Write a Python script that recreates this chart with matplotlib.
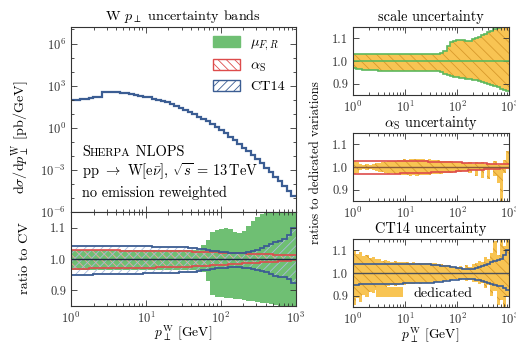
import numpy as np
import matplotlib
matplotlib.use("Agg")
import matplotlib.pyplot as plt
from matplotlib.patches import Patch
from matplotlib.ticker import FixedLocator, LogLocator, NullFormatter, FormatStrFormatter
from matplotlib.offsetbox import TextArea, HPacker, AnnotationBbox

plt.rcParams["font.family"] = "cmr10"
plt.rcParams["mathtext.fontset"] = "cm"
plt.rcParams["axes.formatter.use_mathtext"] = True
plt.rcParams["hatch.linewidth"] = 0.6

# 50 log bins from 1 to 1000 GeV
edges = np.logspace(0, 3, 51)

# log10 of d sigma / d pT [pb/GeV], central value
xs_log10 = [1.96, 2.00, 2.04, 2.08, 2.12, 2.16, 2.21, 2.52, 2.58, 2.58,
            2.56, 2.50, 2.45, 2.40, 2.34, 2.28, 2.22, 2.16, 2.08, 2.00,
            1.91, 1.83, 1.70, 1.56, 1.42, 1.27, 1.12, 0.96, 0.80, 0.63,
            0.45, 0.27, 0.08, -0.14, -0.38, -0.63, -0.89, -1.15, -1.41, -1.67,
            -1.95, -2.24, -2.54, -2.84, -3.16, -3.48, -3.81, -4.15, -4.50, -4.88]

# ratio to CV: mu_F,R envelope
mu_up = [1.030] * 29 + [1.045,
         1.060, 1.087, 1.092, 1.095, 1.098, 1.095, 1.085, 1.082, 1.090, 1.105,
         1.120, 1.135, 1.145, 1.160, 1.160, 1.160, 1.160, 1.160, 1.160, 1.160]
mu_dn = [0.966] * 29 + [0.960,
         0.930, 0.885, 0.880, 0.878, 0.876, 0.874, 0.872, 0.871, 0.869, 0.867,
         0.865, 0.862, 0.860, 0.858, 0.855, 0.853, 0.850, 0.848, 0.846, 0.845]

# ratio to CV: alpha_S
as_up = [1.028, 1.028, 1.028, 1.028, 1.028, 1.028, 1.028, 1.028, 1.028, 1.028,
         1.028, 1.027, 1.027, 1.027, 1.027, 1.027, 1.026, 1.026, 1.026, 1.026,
         1.026, 1.025, 1.025, 1.025, 1.024, 1.024, 1.024, 1.023, 1.023, 1.022,
         1.022, 1.021, 1.021, 1.020, 1.020, 1.019, 1.019, 1.018, 1.018, 1.017,
         1.017, 1.016, 1.016, 1.015, 1.015, 1.014, 1.014, 1.013, 1.013, 1.012]
as_dn = [0.969, 0.969, 0.969, 0.969, 0.970, 0.970, 0.970, 0.970, 0.970, 0.970,
         0.971, 0.971, 0.971, 0.971, 0.971, 0.972, 0.972, 0.972, 0.972, 0.973,
         0.973, 0.974, 0.974, 0.975, 0.975, 0.976, 0.976, 0.977, 0.978, 0.978,
         0.979, 0.980, 0.980, 0.981, 0.982, 0.983, 0.984, 0.985, 0.986, 0.987,
         0.987, 0.988, 0.989, 0.990, 0.991, 0.992, 0.993, 0.994, 0.995, 0.996]

# ratio to CV: CT14
ct_up = [1.041, 1.041, 1.041, 1.040, 1.040, 1.040, 1.040, 1.040, 1.040, 1.040,
         1.040, 1.040, 1.040, 1.040, 1.040, 1.040, 1.040, 1.040, 1.039, 1.039,
         1.039, 1.039, 1.038, 1.038, 1.038, 1.037, 1.036, 1.035, 1.033, 1.031,
         1.029, 1.027, 1.025, 1.023, 1.021, 1.019, 1.018, 1.018, 1.019, 1.021,
         1.025, 1.029, 1.034, 1.040, 1.047, 1.053, 1.058, 1.063, 1.078, 1.100]
ct_dn = [0.949, 0.949, 0.950, 0.950, 0.950, 0.951, 0.951, 0.951, 0.952, 0.952,
         0.952, 0.952, 0.953, 0.953, 0.953, 0.953, 0.954, 0.954, 0.954, 0.955,
         0.955, 0.955, 0.956, 0.956, 0.957, 0.958, 0.959, 0.960, 0.962, 0.964,
         0.966, 0.968, 0.970, 0.971, 0.972, 0.973, 0.973, 0.973, 0.972, 0.970,
         0.968, 0.965, 0.961, 0.957, 0.952, 0.947, 0.944, 0.941, 0.936, 0.925]

# scale: reweighted vs dedicated
sc_up = [1.029, 1.030, 1.031, 1.031, 1.032, 1.032, 1.032, 1.032, 1.032, 1.032,
         1.032, 1.031, 1.031, 1.031, 1.031, 1.030, 1.030, 1.030, 1.030, 1.030,
         1.030, 1.029, 1.029, 1.029, 1.029, 1.029, 1.029, 1.030, 1.034, 1.045,
         1.065, 1.082, 1.089, 1.093, 1.093, 1.093, 1.088, 1.090, 1.096, 1.100,
         1.107, 1.114, 1.121, 1.127, 1.133, 1.139, 1.145, 1.150, 1.155, 1.160]
sc_dn = [0.967, 0.965, 0.963, 0.962, 0.961, 0.960, 0.959, 0.959, 0.958, 0.958,
         0.958, 0.957, 0.957, 0.957, 0.957, 0.957, 0.956, 0.956, 0.956, 0.956,
         0.956, 0.955, 0.955, 0.955, 0.955, 0.955, 0.955, 0.954, 0.950, 0.944,
         0.938, 0.933, 0.930, 0.928, 0.926, 0.924, 0.922, 0.920, 0.918, 0.915,
         0.911, 0.907, 0.903, 0.899, 0.894, 0.889, 0.884, 0.878, 0.872, 0.866]

# dedicated alpha_S variations
ded_as_up = [1.027, 1.020, 1.012, 1.010, 1.014, 1.011, 1.013, 1.016, 1.018, 1.022,
             1.024, 1.026, 1.025, 1.028, 1.030, 1.033, 1.034, 1.032, 1.036, 1.035,
             1.037, 1.034, 1.036, 1.033, 1.035, 1.032, 1.030, 1.031, 1.028, 1.027,
             1.025, 1.026, 1.022, 1.020, 1.021, 1.018, 1.017, 1.020, 1.015, 1.022,
             1.016, 1.024, 1.014, 1.018, 1.012, 1.026, 1.010, 1.015, 1.030, 1.070]
ded_as_dn = [0.968, 0.975, 0.988, 0.990, 0.986, 0.989, 0.987, 0.984, 0.980, 0.976,
             0.973, 0.971, 0.972, 0.969, 0.967, 0.965, 0.964, 0.966, 0.962, 0.964,
             0.962, 0.965, 0.963, 0.966, 0.964, 0.967, 0.968, 0.969, 0.971, 0.972,
             0.975, 0.974, 0.978, 0.980, 0.978, 0.982, 0.983, 0.975, 0.985, 0.960,
             0.986, 0.950, 0.987, 0.945, 0.990, 0.960, 0.930, 0.850, 0.975, 0.990]

# dedicated CT14 variations
ded_ct_up = [1.100, 1.085, 1.092, 1.075, 1.080, 1.066, 1.070, 1.060, 1.062, 1.055,
             1.058, 1.052, 1.050, 1.053, 1.048, 1.050, 1.047, 1.049, 1.046, 1.047,
             1.045, 1.046, 1.044, 1.045, 1.043, 1.044, 1.042, 1.040, 1.038, 1.036,
             1.034, 1.030, 1.028, 1.026, 1.030, 1.024, 1.035, 1.028, 1.040, 1.045,
             1.055, 1.050, 1.070, 1.062, 1.090, 1.140, 1.080, 1.150, 1.120, 1.150]
ded_ct_dn = [0.860, 0.890, 0.870, 0.905, 0.895, 0.915, 0.910, 0.925, 0.930, 0.935,
             0.938, 0.942, 0.945, 0.944, 0.948, 0.950, 0.949, 0.952, 0.951, 0.953,
             0.954, 0.953, 0.955, 0.956, 0.957, 0.958, 0.960, 0.962, 0.964, 0.966,
             0.968, 0.970, 0.972, 0.974, 0.970, 0.972, 0.966, 0.968, 0.960, 0.962,
             0.950, 0.955, 0.935, 0.945, 0.900, 0.920, 0.860, 0.880, 0.850, 0.900]

GREEN = "#6fbf73"
RED = "#dd4b4b"
RED_H = "#f0a3a3"
BLUE = "#3b5d93"
BLUE_H = "#a9badb"
ORANGE = "#f8c453"
ORANGE_H = "#d89a2c"
SPINE = "#333333"
TICK_FS = 9


def band(ax, lo, hi, face=None, hatch=None, hcol=None):
    lo, hi = np.asarray(lo), np.asarray(hi)
    if face is not None:
        ax.stairs(hi, edges, baseline=lo, fill=True, facecolor=face, edgecolor="none", lw=0)
    if hatch is not None:
        ax.stairs(hi, edges, baseline=lo, fill=True, facecolor="none",
                  edgecolor=hcol, hatch=hatch, lw=0)


def edges_line(ax, lo, hi, color, lw=1.2):
    ax.stairs(hi, edges, baseline=None, color=color, lw=lw)
    ax.stairs(lo, edges, baseline=None, color=color, lw=lw)


def style(ax, ratio=True, xlabels=True):
    ax.set_xscale("log")
    ax.set_xlim(1, 1000)
    ax.xaxis.set_minor_locator(LogLocator(base=10, subs=range(2, 10), numticks=20))
    ax.xaxis.set_minor_formatter(NullFormatter())
    ax.tick_params(which="both", direction="in", top=True, right=True,
                   labelsize=TICK_FS, colors=SPINE, width=0.6)
    ax.tick_params(which="major", length=4)
    ax.tick_params(which="minor", length=2)
    for s in ax.spines.values():
        s.set_color(SPINE)
        s.set_linewidth(0.8)
    if ratio:
        ax.set_ylim(0.85, 1.15)
        ax.set_yticks([0.9, 1.0, 1.1])
        ax.yaxis.set_major_formatter(FormatStrFormatter("%.1f"))
    if not xlabels:
        ax.tick_params(labelbottom=False)


fig = plt.figure(figsize=(5.16, 3.52), dpi=100)
W, H = 516, 352


def add_ax(x0, y0, x1, y1):
    return fig.add_axes([x0 / W, 1 - y1 / H, (x1 - x0) / W, (y1 - y0) / H])


ax_main = add_ax(71, 27, 295.5, 212)
ax_rat = add_ax(71, 212, 295.5, 306)
ax_sc = add_ax(353, 27, 509, 95)
ax_as = add_ax(353, 133, 509, 201)
ax_ct = add_ax(353, 239, 509, 307)

# ---- main spectrum
xs = 10 ** np.asarray(xs_log10)
band(ax_main, xs * np.asarray(mu_dn), xs * np.asarray(mu_up), face=GREEN)
ax_main.stairs(xs, edges, baseline=None, color=BLUE, lw=1.6)
style(ax_main, ratio=False, xlabels=False)
ax_main.set_yscale("log")
ax_main.set_ylim(1e-6, 1.5e7)
ax_main.yaxis.set_major_locator(FixedLocator([1e-6, 1e-3, 1, 1e3, 1e6]))
ax_main.yaxis.set_minor_locator(FixedLocator([10.0 ** k for k in range(-6, 8)]))
ax_main.yaxis.set_minor_formatter(NullFormatter())
ax_main.set_title(r"W $p_\perp$ uncertainty bands", fontsize=10.2, pad=5)

handles = [Patch(facecolor=GREEN, edgecolor=GREEN),
           Patch(facecolor="white", edgecolor=RED, hatch="\\\\\\\\"),
           Patch(facecolor="white", edgecolor=BLUE, hatch="////")]
ax_main.legend(handles, [r"$\mu_{F,R}$", r"$\alpha_\mathrm{S}$", "CT14"],
               loc="upper right", bbox_to_anchor=(0.965, 0.965), frameon=False,
               fontsize=10.2, handlelength=1.9, handleheight=0.75, labelspacing=0.45,
               handletextpad=0.7, borderaxespad=0.0, borderpad=0.2)

sherpa = HPacker(children=[TextArea("S", textprops=dict(fontsize=10.4)),
                           TextArea("HERPA", textprops=dict(fontsize=8.2)),
                           TextArea(" NLOPS", textprops=dict(fontsize=10.4))],
                 align="baseline", pad=0, sep=0)
ax_main.add_artist(AnnotationBbox(sherpa, (0.05, 0.324), xycoords="axes fraction",
                                  box_alignment=(0, 0.5), frameon=False, pad=0))
ax_main.text(0.05, 0.216, r"pp $\rightarrow$ W[e$\bar{\nu}$], $\sqrt{s}\,=\,13\,$TeV",
             transform=ax_main.transAxes, fontsize=10.4, va="center")
ax_main.text(0.05, 0.103, "no emission reweighted", transform=ax_main.transAxes,
             fontsize=10.4, va="center")

# ---- ratio to CV
band(ax_rat, mu_dn, mu_up, face=GREEN)
band(ax_rat, as_dn, as_up, hatch="\\\\\\\\", hcol=RED_H)
band(ax_rat, ct_dn, ct_up, hatch="////", hcol=BLUE_H)
ax_rat.axhline(1.0, color="#1d2a40", lw=1.0)
edges_line(ax_rat, as_dn, as_up, RED)
edges_line(ax_rat, ct_dn, ct_up, BLUE, lw=1.3)
style(ax_rat)

# ---- right: scale
band(ax_sc, sc_dn, sc_up, face=ORANGE, hatch="\\\\\\", hcol=ORANGE_H)
edges_line(ax_sc, sc_dn, sc_up, "#5cb85c", lw=1.2)
ax_sc.axhline(1.0, color="#5cb85c", lw=1.2)
style(ax_sc)
ax_sc.set_title("scale uncertainty", fontsize=10.3, pad=4)

# ---- right: alpha_S
band(ax_as, ded_as_dn, ded_as_up, face=ORANGE, hatch="\\\\\\", hcol=ORANGE_H)
ax_as.axhline(1.0, color="#8a5a3a", lw=1.0)
edges_line(ax_as, as_dn, as_up, RED)
style(ax_as)
ax_as.set_title(r"$\alpha_\mathrm{S}$ uncertainty", fontsize=10.3, pad=4)

# ---- right: CT14
band(ax_ct, ded_ct_dn, ded_ct_up, face=ORANGE, hatch="\\\\\\", hcol=ORANGE_H)
ax_ct.axhline(1.0, color="#4a4f5a", lw=1.0)
edges_line(ax_ct, ct_dn, ct_up, BLUE)
style(ax_ct)
ax_ct.set_title("CT14 uncertainty", fontsize=10.3, pad=4)
ax_ct.legend([Patch(facecolor=ORANGE, edgecolor="none")], ["dedicated"],
             loc="center left", bbox_to_anchor=(0.15, 0.2), frameon=False,
             fontsize=10.2, handlelength=1.9, handleheight=0.75, handletextpad=0.7,
             borderpad=0.0, borderaxespad=0.0)

# ---- axis labels
fig.text(20.5 / W, 1 - 137 / H, r"d$\sigma$/d$p_\perp^\mathrm{W}$ [pb/GeV]",
         rotation=90, ha="center", va="center", fontsize=10.2)
fig.text(25 / W, 1 - 258 / H, "ratio to CV", rotation=90, ha="center",
         va="center", fontsize=10.2)
fig.text(316 / W, 1 - 163 / H, "ratios to dedicated variations", rotation=90,
         ha="center", va="center", fontsize=9.2)
fig.text(183 / W, 1 - 333 / H, r"$p_\perp^\mathrm{W}$ [GeV]", ha="center",
         va="center", fontsize=9.8)
fig.text(430 / W, 1 - 335 / H, r"$p_\perp^\mathrm{W}$ [GeV]", ha="center",
         va="center", fontsize=9.8)

fig.savefig("out.png", dpi=100)
